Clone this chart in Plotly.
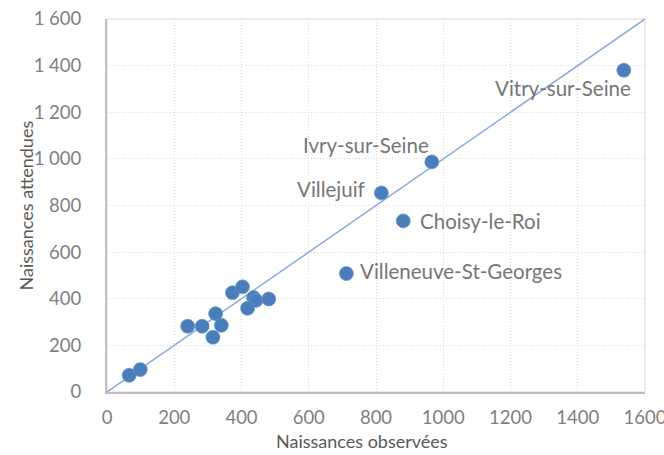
import plotly.graph_objects as go

# Data
observed = [66, 99, 240, 283, 323, 340, 315, 373, 403, 436, 443, 418, 481,
            712, 881, 816, 966, 1537]
expected = [72, 96, 282, 282, 336, 286, 235, 426, 451, 405, 393, 359, 399,
            508, 734, 854, 987, 1380]
labels = [""] * 13 + ["Villeneuve-St-Georges", "Choisy-le-Roi", "Villejuif",
                      "Ivry-sur-Seine", "Vitry-sur-Seine"]
diag = [0, 1600]

x_ticks = [0, 200, 400, 600, 800, 1000, 1200, 1400, 1600]
x_ticktext = ["0", "200", "400", "600", "800", "1000", "1200", "1400", "1600"]
y_ticks = [0, 200, 400, 600, 800, 1000, 1200, 1400, 1600]
y_ticktext = ["0", "200", "400", "600", "800", "1 000", "1 200", "1 400", "1 600"]
x_title = "Naissances observées"
y_title = "Naissances attendues"

# label placement (anchor, xshift, yshift)
label_pos = {
    "Villeneuve-St-Georges": ("left", 12, 3),
    "Choisy-le-Roi": ("left", 15, 0),
    "Villejuif": ("right", -14, 4),
    "Ivry-sur-Seine": ("right", -1, 17),
    "Vitry-sur-Seine": ("right", 9, -18),
}

FONT = "Lato"
fig = go.Figure()
fig.add_trace(go.Scatter(x=diag, y=diag, mode="lines",
                         line=dict(color="#8aabd9", width=1.5),
                         hoverinfo="skip", showlegend=False, cliponaxis=False))
fig.add_trace(go.Scatter(x=observed, y=expected, mode="markers",
                         marker=dict(size=14, color="#4a7ebb",
                                     line=dict(color="#6f98cc", width=0.75)),
                         showlegend=False))

for xo, ye, lab in zip(observed, expected, labels):
    if not lab:
        continue
    anc, xs, ys = label_pos[lab]
    fig.add_annotation(x=xo, y=ye, text=lab, showarrow=False,
                       xanchor=anc, yanchor="middle", xshift=xs, yshift=ys,
                       font=dict(family=FONT, size=20.5, color="#767676"))

# axis titles (placed as in the reference)
fig.add_annotation(xref="paper", yref="paper", x=0.474, y=0, yshift=-49,
                   xanchor="center", yanchor="middle", showarrow=False,
                   text=x_title, font=dict(family=FONT, size=18, color="#595959"))
fig.add_annotation(xref="paper", yref="paper", x=0, y=0.5, xshift=-82,
                   xanchor="center", yanchor="middle", showarrow=False,
                   textangle=-90,
                   text=y_title, font=dict(family=FONT, size=18, color="#595959"))

fig.add_shape(type="rect", xref="paper", yref="paper", x0=0, y0=0, x1=1, y1=1,
              line=dict(color="#d9d9d9", width=1), layer="below")

fig.update_layout(
    width=664, height=455,
    margin=dict(l=107, r=19, t=19, b=63, autoexpand=False),
    paper_bgcolor="white", plot_bgcolor="white",
    font=dict(family=FONT, color="#7f7f7f"),
    xaxis=dict(range=[0, 1600], tickvals=x_ticks, ticktext=x_ticktext,
               automargin=False, ticklabeloverflow="allow",
               showgrid=True, gridcolor="#d9d9d9", griddash="1px,2px", gridwidth=1,
               zeroline=False, showline=True, linecolor="#bfbfbf", linewidth=2,
               ticks="", ticklabelstandoff=8,
               tickfont=dict(family=FONT, size=18.5, color="#7f7f7f")),
    yaxis=dict(range=[0, 1600], tickvals=y_ticks, ticktext=y_ticktext,
               automargin=False, ticklabeloverflow="allow",
               showgrid=True, gridcolor="#d9d9d9", griddash="1px,2px", gridwidth=1,
               zeroline=False, showline=True, linecolor="#bfbfbf", linewidth=2,
               ticks="", ticklabelstandoff=20,
               tickfont=dict(family=FONT, size=18.5, color="#7f7f7f")),
)

# remove the default page margin so the figure fills the window exactly
fig.write_html("out.html",
               config={"displayModeBar": False},
               post_script="document.body.style.margin='0';"
                           "document.body.style.overflow='hidden';")
